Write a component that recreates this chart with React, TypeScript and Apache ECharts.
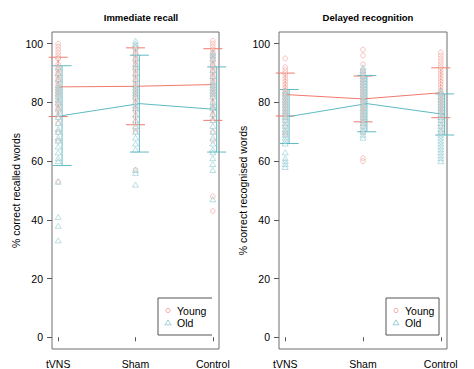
import React, { useEffect, useRef } from "react";
import * as echarts from "echarts";

const conditions = ["tVNS", "Sham", "Control"];
const yTicks = [0, 20, 40, 60, 80, 100];
const groupNames = ["Young", "Old"];
const panelTitles = ["Immediate recall", "Delayed recognition"];
const yTitles = ["% correct recalled words", "% correct recognised words"];

// Immediate recall – individual scores
const irYoungTVNS = [100, 99, 98, 97, 96, 95, 95, 93, 92, 91, 90, 89, 88, 87, 86, 85, 84, 83, 82, 80, 79, 78, 77, 75, 73, 70, 67, 53];
const irOldTVNS = [92, 90, 88, 86, 85, 84, 83, 82, 81, 80, 78, 76, 75, 73, 71, 70, 68, 67, 65, 63, 61, 60, 53, 41, 38, 33];
const irYoungSham = [99, 98, 97, 96, 95, 94, 93, 92, 91, 90, 89, 88, 87, 86, 85, 84, 83, 82, 81, 80, 78, 77, 75, 73, 71, 70, 57];
const irOldSham = [101, 100, 99, 97, 95, 93, 92, 90, 88, 86, 85, 84, 83, 82, 80, 79, 78, 76, 74, 72, 70, 68, 66, 64, 57, 56, 52];
const irYoungControl = [101, 100, 99, 98, 97, 96, 95, 94, 93, 92, 91, 90, 89, 88, 87, 86, 85, 84, 83, 82, 80, 78, 76, 74, 70, 67, 48, 43];
const irOldControl = [97, 96, 95, 93, 91, 89, 87, 86, 85, 84, 83, 82, 80, 79, 78, 76, 74, 72, 70, 68, 66, 64, 63, 61, 59, 57, 47];

// Delayed recognition – individual scores
const drYoungTVNS = [95, 92, 91, 90, 89, 88, 87, 86, 85, 84, 83, 83, 82, 81, 80, 79, 78, 77, 76, 75, 74, 72, 70, 69];
const drOldTVNS = [84, 83, 82, 81, 80, 79, 78, 77, 76, 75, 74, 73, 72, 71, 70, 69, 68, 67, 66, 63, 61, 60, 59, 58];
const drYoungSham = [98, 96, 93, 91, 90, 89, 88, 87, 86, 85, 84, 83, 82, 81, 80, 79, 78, 77, 76, 75, 74, 73, 72, 70, 61, 60];
const drOldSham = [92, 91, 90, 89, 88, 87, 86, 85, 84, 83, 82, 81, 80, 79, 78, 77, 76, 75, 74, 73, 72, 71, 70, 69, 68];
const drYoungControl = [97, 96, 95, 94, 93, 92, 91, 90, 89, 88, 87, 86, 85, 84, 83, 82, 81, 80, 79, 78, 77, 76, 74, 72, 70];
const drOldControl = [84, 83, 82, 81, 80, 79, 78, 77, 76, 75, 74, 73, 72, 71, 70, 69, 68, 67, 66, 65, 64, 63, 62, 61, 60];

// Means and standard deviations
const irYoungMeans = [85.3, 85.5, 86.1];
const irYoungSD = [10.1, 13.1, 12.2];
const irOldMeans = [75.5, 79.6, 77.6];
const irOldSD = [17.0, 16.5, 14.5];
const drYoungMeans = [82.7, 81.2, 83.3];
const drYoungSD = [7.3, 7.8, 8.5];
const drOldMeans = [75.2, 79.6, 75.9];
const drOldSD = [9.2, 9.6, 7.0];

const RED = "#F07A6C";
const TEAL = "#5FBAC4";
const RED_PT = "rgba(235,120,108,0.6)";
const TEAL_PT = "rgba(95,180,190,0.6)";
const FONT = "Liberation Sans, Arial, sans-serif";
const OLD_DODGE = 0.05;

const panels = [
  {
    young: [irYoungTVNS, irYoungSham, irYoungControl],
    old: [irOldTVNS, irOldSham, irOldControl],
    yMeans: irYoungMeans, ySD: irYoungSD, oMeans: irOldMeans, oSD: irOldSD,
  },
  {
    young: [drYoungTVNS, drYoungSham, drYoungControl],
    old: [drOldTVNS, drOldSham, drOldControl],
    yMeans: drYoungMeans, ySD: drYoungSD, oMeans: drOldMeans, oSD: drOldSD,
  },
];

const grids = [
  { left: 52, top: 32, width: 167, height: 318 },
  { left: 279, top: 32, width: 168, height: 318 },
];

function errorRender(color: string) {
  return (params: any, api: any) => {
    const x = api.value(0);
    const lo = api.coord([x, api.value(1)]);
    const hi = api.coord([x, api.value(2)]);
    const hw = 9.5;
    const st = { stroke: color, lineWidth: 1 };
    return {
      type: "group",
      children: [
        { type: "line", shape: { x1: lo[0], y1: lo[1], x2: hi[0], y2: hi[1] }, style: st },
        { type: "line", shape: { x1: lo[0] - hw, y1: lo[1], x2: lo[0] + hw, y2: lo[1] }, style: st },
        { type: "line", shape: { x1: hi[0] - hw, y1: hi[1], x2: hi[0] + hw, y2: hi[1] }, style: st },
      ],
    };
  };
}

export default function App() {
  const ref = useRef<HTMLDivElement>(null);
  useEffect(() => {
    if (!ref.current) return;
    const chart = echarts.init(ref.current, null, { renderer: "svg" });
    const series: any[] = [];
    panels.forEach((p, pi) => {
      const young: number[][] = [];
      const old: number[][] = [];
      p.young.forEach((arr, i) => arr.forEach((v) => young.push([i + 1, v])));
      p.old.forEach((arr, i) => arr.forEach((v) => old.push([i + 1, v])));
      series.push({
        type: "custom", xAxisIndex: pi, yAxisIndex: pi, z: 1, renderItem: errorRender(RED),
        data: p.yMeans.map((m, i) => [i + 1, m - p.ySD[i], m + p.ySD[i]]),
      });
      series.push({
        type: "custom", xAxisIndex: pi, yAxisIndex: pi, z: 1, renderItem: errorRender(TEAL),
        data: p.oMeans.map((m, i) => [i + 1 + OLD_DODGE, m - p.oSD[i], m + p.oSD[i]]),
      });
      series.push({
        type: "line", xAxisIndex: pi, yAxisIndex: pi, symbol: "none", z: 2,
        data: p.yMeans.map((m, i) => [i + 1, m]), lineStyle: { color: RED, width: 1 },
      });
      series.push({
        type: "line", xAxisIndex: pi, yAxisIndex: pi, symbol: "none", z: 2,
        data: p.oMeans.map((m, i) => [i + 1 + OLD_DODGE, m]), lineStyle: { color: TEAL, width: 1 },
      });
      series.push({
        type: "scatter", xAxisIndex: pi, yAxisIndex: pi, data: young, symbol: "circle", symbolSize: [4.5, 5],
        itemStyle: { color: "rgba(255,255,255,0.35)", borderColor: RED_PT, borderWidth: 0.9 }, z: 5,
      });
      series.push({
        type: "scatter", xAxisIndex: pi, yAxisIndex: pi, data: old, symbol: "triangle", symbolSize: [6, 5],
        itemStyle: { color: "rgba(255,255,255,0.35)", borderColor: TEAL_PT, borderWidth: 0.9 }, z: 5,
      });
    });

    const xAxes = grids.map((_, gi) => ({
      type: "value", gridIndex: gi, min: 0.92, max: 3.08,
      axisLine: { show: false }, splitLine: { show: false },
      axisTick: { show: true, customValues: [1, 2, 3], length: 4, lineStyle: { color: "#555" } },
      axisLabel: {
        show: true, customValues: [1, 2, 3], margin: 9, color: "#000", fontSize: 10.5, fontFamily: FONT,
        formatter: (v: number) => conditions[Math.round(v) - 1] ?? "",
      },
    }));
    const yAxes = grids.map((_, gi) => ({
      type: "value", gridIndex: gi, min: -4, max: 104,
      axisLine: { show: false }, splitLine: { show: false },
      axisTick: { show: true, customValues: yTicks, length: 5, lineStyle: { color: "#555" } },
      axisLabel: { show: true, customValues: yTicks, margin: 9, color: "#000", fontSize: 10.5, fontFamily: FONT },
      name: yTitles[gi], nameLocation: "middle", nameGap: 30,
      nameTextStyle: { color: "#000", fontSize: 10.5, fontFamily: FONT },
    }));

    const legendEls = (x0: number, y0: number, w: number, h: number, closed: boolean) => {
      const els: any[] = [];
      if (closed) {
        els.push({ type: "rect", shape: { x: x0, y: y0, width: w, height: h }, style: { fill: "#fff", stroke: "#555", lineWidth: 1 }, z: 10 });
      } else {
        els.push({ type: "rect", shape: { x: x0, y: y0, width: w, height: h }, style: { fill: "#fff", stroke: "none" }, z: 10 });
        els.push({ type: "polyline", shape: { points: [[x0 + w, y0], [x0, y0], [x0, y0 + h], [x0 + w, y0 + h]] }, style: { stroke: "#555", lineWidth: 1, fill: "none" }, z: 11 });
      }
      const sx = x0 + 10;
      const r1 = y0 + 12.5, r2 = y0 + 24.5;
      els.push({ type: "circle", shape: { cx: sx, cy: r1, r: 2.1 }, style: { fill: "none", stroke: RED_PT, lineWidth: 1 }, z: 11 });
      els.push({ type: "polygon", shape: { points: [[sx - 3, r2 + 2.3], [sx + 3, r2 + 2.3], [sx, r2 - 2.6]] }, style: { fill: "none", stroke: TEAL_PT, lineWidth: 1 }, z: 11 });
      els.push({ type: "text", x: sx + 9, y: r1, style: { text: groupNames[0], fill: "#000", font: `10.5px ${FONT}`, verticalAlign: "middle" }, z: 11 });
      els.push({ type: "text", x: sx + 9, y: r2, style: { text: groupNames[1], fill: "#000", font: `10.5px ${FONT}`, verticalAlign: "middle" }, z: 11 });
      return els;
    };

    chart.setOption({
      animation: false,
      backgroundColor: "#fff",
      title: [
        { text: panelTitles[0], left: 136, top: 7, textAlign: "center", textStyle: { fontSize: 9.5, fontWeight: "bold", fontFamily: FONT, color: "#000" } },
        { text: panelTitles[1], left: 363, top: 7, textAlign: "center", textStyle: { fontSize: 9.5, fontWeight: "bold", fontFamily: FONT, color: "#000" } },
      ],
      grid: grids.map((g) => ({ ...g, show: true, borderColor: "#6f6f6f", borderWidth: 1, backgroundColor: "transparent" })),
      xAxis: xAxes,
      yAxis: yAxes,
      series,
      graphic: [...legendEls(158, 298, 54, 37, false), ...legendEls(386, 298, 53, 37, true)],
    });
    return () => chart.dispose();
  }, []);
  return <div ref={ref} style={{ position: "fixed", left: 0, top: 0, width: 474, height: 369 }} />;
}
